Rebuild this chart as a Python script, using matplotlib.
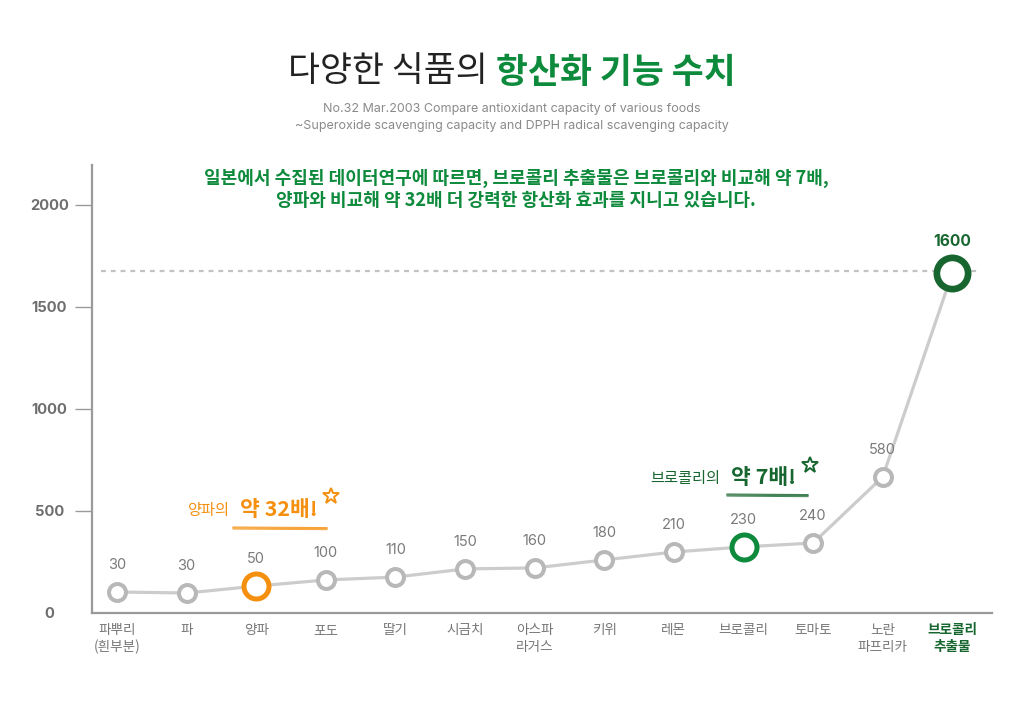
import matplotlib
matplotlib.use('Agg')
import matplotlib.pyplot as plt
from matplotlib.lines import Line2D

plt.rcParams['font.family'] = ['Noto Sans CJK KR', 'DejaVu Sans']

# data
foods = ['파뿌리\n(흰부분)', '파', '양파', '포도', '딸기', '시금치', '아스파\n라거스',
         '키위', '레몬', '브로콜리', '토마토', '노란\n파프리카', '브로콜리\n추출물']
# height of each marker as drawn on the chart's axis
plot_values = [103, 98, 132, 162, 176, 216, 221, 260, 299, 324, 343, 667, 1667]
# numbers printed above the markers
value_labels = ['30', '30', '50', '100', '110', '150', '160', '180', '210', '230', '240', '580', '1600']
y_ticks = [0, 500, 1000, 1500, 2000]
ref_level = 1676

GREEN = '#0e8a3c'
DARK_GREEN = '#17662f'
ORANGE = '#f5900f'
GRAY = '#b8b8b8'
NUM_FONT = ['Inter', 'DejaVu Sans']

W, H = 1024, 701
fig = plt.figure(figsize=(W / 100, H / 100), dpi=100)
fig.patch.set_facecolor('white')


def fx(px):
    return px / W


def fy(py):
    return 1 - py / H


ax = fig.add_axes([fx(92), fy(613), fx(992) - fx(92), fy(165) - fy(613)])
x = list(range(len(foods)))

ax.axhline(ref_level, xmin=0.01, xmax=0.985, color='#c2c2c2', lw=1.6,
           ls=(0, (2.2, 2.2)), zorder=1)
ax.plot(x, plot_values, color='#cccccc', lw=2.3, zorder=2)
ax.plot(x[:-1], plot_values[:-1], 'o', ms=12.2, mew=2.9, mfc='white', mec=GRAY, zorder=3)
ax.plot([2], [plot_values[2]], 'o', ms=18, mew=3.6, mfc='white', mec=ORANGE, zorder=4)
ax.plot([9], [plot_values[9]], 'o', ms=18, mew=3.6, mfc='white', mec=GREEN, zorder=4)
ax.plot([12], [plot_values[12]], 'o', ms=22.5, mew=4.8, mfc='white', mec=DARK_GREEN, zorder=4)

for i in x[:-1]:
    ax.annotate(value_labels[i], (i, plot_values[i]), xytext=(0, 19.5),
                textcoords='offset points', ha='center', va='center',
                fontsize=10.5, color='#7a7a7a', family=NUM_FONT)
ax.annotate(value_labels[-1], (12, plot_values[-1]), xytext=(0, 22.5),
            textcoords='offset points', ha='center', va='center',
            fontsize=11.2, fontweight='bold', color=DARK_GREEN, family=NUM_FONT)

ax.set_xlim(-0.36, 12.57)
ax.set_ylim(0, 2196)
for s in ['top', 'right']:
    ax.spines[s].set_visible(False)
for s in ['left', 'bottom']:
    ax.spines[s].set_color('#9a9a9a')
    ax.spines[s].set_linewidth(1.6)

ax.set_yticks(y_ticks)
ax.set_yticklabels([str(v) for v in y_ticks], fontsize=10.6, fontweight='bold',
                   color='#6e6e6e', ha='center', family=NUM_FONT)
ax.tick_params(axis='y', length=12.2, width=1, color='#9a9a9a', pad=18.5)
ax.yaxis.get_major_ticks()[0].tick1line.set_visible(False)

ax.set_xticks(x)
ax.set_xticklabels(foods, fontsize=9.8, color='#777777', linespacing=1.2)
ax.tick_params(axis='x', length=0, pad=7.5)
last = ax.get_xticklabels()[-1]
last.set_color(DARK_GREEN)
last.set_fontweight('bold')

# title in two colours
renderer = fig.canvas.get_renderer()
t1 = fig.text(0, fy(72), '다양한 식품의 ', fontsize=25, color='#222222', va='center')
t2 = fig.text(0, fy(72), '항산화 기능 수치', fontsize=25, color=GREEN,
              fontweight='bold', va='center')
w1 = t1.get_window_extent(renderer).width
w2 = t2.get_window_extent(renderer).width
start = (W - w1 - w2) / 2
t1.set_x(fx(start))
t2.set_x(fx(start + w1))

fig.text(0.5, fy(109), 'No.32 Mar.2003 Compare antioxidant capacity of various foods',
         ha='center', va='center', fontsize=9.0, color='#8a8a8a', family='Inter')
fig.text(0.5, fy(126), '~Superoxide scavenging capacity and DPPH radical scavenging capacity',
         ha='center', va='center', fontsize=9.0, color='#8a8a8a', family='Inter')

fig.text(fx(516), fy(178), '일본에서 수집된 데이터연구에 따르면, 브로콜리 추출물은 브로콜리와 비교해 약 7배,',
         ha='center', va='center', fontsize=13.0, color=GREEN, fontweight='bold')
fig.text(fx(516), fy(201), '양파와 비교해 약 32배 더 강력한 항산화 효과를 지니고 있습니다.',
         ha='center', va='center', fontsize=13.0, color=GREEN, fontweight='bold')


def callout(x_small, x_big, y, small, big, color, ul_x0, ul_x1, ul_y, star_x, star_y):
    fig.text(fx(x_small), fy(y), small, fontsize=11, color=color, va='center')
    fig.text(fx(x_big), fy(y - 1), big, fontsize=15.5, color=color, va='center',
             fontweight='black')
    for dy, lw in [(-1.0, 0.8), (0, 1.0), (1.1, 0.7)]:
        fig.add_artist(Line2D([fx(ul_x0), fx(ul_x1)], [fy(ul_y + dy), fy(ul_y + dy + 0.6)],
                              color=color, lw=lw, alpha=0.8))
    fig.add_artist(Line2D([fx(star_x)], [fy(star_y)], marker='*', ms=12, mfc='none',
                          mec=color, mew=1.4))


callout(188, 240, 511, '양파의', '약 32배!', ORANGE, 233, 327, 528, 331, 496)
callout(650, 731, 479, '브로콜리의', '약 7배!', DARK_GREEN, 727, 808, 495, 810, 465)

fig.savefig('out.png', dpi=100)
